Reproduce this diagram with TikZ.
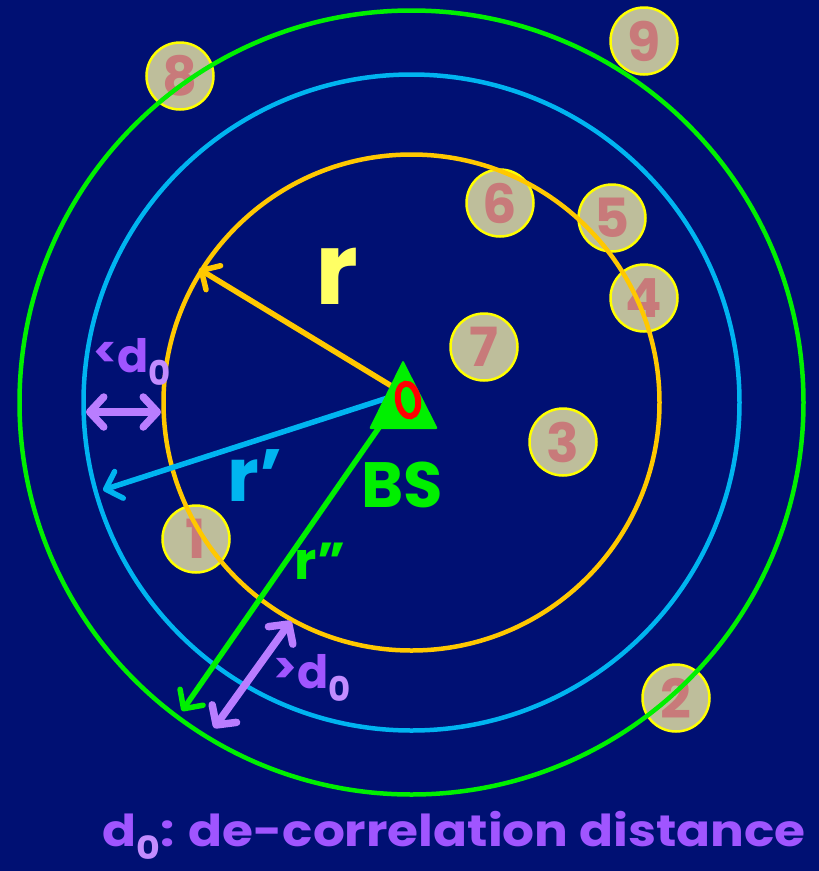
\documentclass[tikz,border=0pt]{standalone}
\usepackage{fontspec}
\setmainfont{Poppins}
\usetikzlibrary{arrows.meta}
\definecolor{bg}{RGB}{0,16,115}
\definecolor{ringorange}{RGB}{255,200,0}
\definecolor{ringblue}{RGB}{0,180,240}
\definecolor{ringgreen}{RGB}{0,240,0}
\definecolor{rlabel}{RGB}{255,255,100}
\definecolor{purparrow}{RGB}{185,125,255}
\definecolor{purptext}{RGB}{160,85,255}
\definecolor{purpsub}{RGB}{195,140,255}
\definecolor{uefill}{RGB}{190,190,155}
\definecolor{uenum}{RGB}{200,122,122}
\definecolor{uerim}{RGB}{255,255,0}
\tikzset{
  ue/.style={circle, minimum size=67pt, inner sep=0pt, fill=uefill, draw=uerim, line width=2.5pt,
    text=uenum, font=\fontsize{54}{54}\selectfont\bfseries},
  ring/.style={line width=4.5pt},
  radarrow/.style={line width=5.5pt, line cap=round, -{Straight Barb[length=14pt,width=28pt,line width=5.5pt,round]}},
  darrow/.style={line width=7.5pt, color=purparrow, line cap=round,
    {Straight Barb[length=14pt,width=30pt,line width=7.5pt,round]}-{Straight Barb[length=14pt,width=30pt,line width=7.5pt,round]}},
  lbl/.style={inner sep=0pt, anchor=center}
}
\newcommand{\subz}[1]{\raisebox{-0.3em}{\color{purpsub}\fontsize{#1}{#1}\selectfont 0}}
\begin{document}
\begin{tikzpicture}[x=1pt,y=-1pt]
\fill[bg] (0,0) rectangle (819,871);
\useasboundingbox (0,0) rectangle (819,871);
% users
\node[ue] (u1) at (196,539) {1};
\node[ue] (u2) at (676,698) {2};
\node[ue] (u3) at (563,442) {3};
\node[ue] (u4) at (644,298) {4};
\node[ue] (u5) at (612,218) {5};
\node[ue] (u6) at (500,203) {6};
\node[ue] (u7) at (484,347) {7};
\node[ue] (u8) at (180,76) {8};
\node[ue] (u9) at (644,41) {9};
% rings
\coordinate (c) at (411.5,402.5);
\draw[ring, ringorange] (c) circle[radius=248];
\draw[ring, ringblue] (c) circle[radius=328];
\draw[ring, ringgreen] (c) circle[radius=392];
% radius arrows
\coordinate (bs) at (403,393);
\coordinate (ro) at (199,269);
\coordinate (rb) at (103,490);
\coordinate (rg) at (182,711);
\draw[radarrow, ringgreen] (bs) -- (rg);
\draw[radarrow, ringorange] (bs) -- (ro);
\draw[radarrow, ringblue] (bs) -- (rb);
% d0 arrows
\coordinate (da1) at (86,412);
\coordinate (da2) at (161,412);
\coordinate (db1) at (291,621);
\coordinate (db2) at (214,728);
\draw[darrow] (da1) -- (da2);
\draw[darrow] (db1) -- (db2);
% BS
\fill[ringgreen, rounded corners=2pt] (403,360) -- (438,429) -- (369,429) -- cycle;
\draw[red, line width=6pt, rotate around={10:(408,400)}] (408,400) ellipse[x radius=10, y radius=16.5];
% labels
\node[lbl, text=rlabel, font=\fontsize{100}{100}\selectfont\bfseries] (lr) at (337,276) {r};
\node[lbl, text=ringblue, font=\fontsize{74}{74}\selectfont\bfseries] (lr1) at (255,476) {r'};
\node[lbl, text=ringgreen, font=\fontsize{52}{52}\selectfont\bfseries] (lr2) at (320,561) {r''};
\node[lbl, text=ringgreen, font=\fontsize{64}{64}\selectfont\bfseries] (lbs) at (402,485) {BS};
\node[lbl, text=purptext, font=\fontsize{46}{46}\selectfont\bfseries] (ld1) at (132,362) {\raisebox{0.1em}{\fontsize{44}{44}\selectfont<}d\subz{34}};
\node[lbl, text=purptext, font=\fontsize{46}{46}\selectfont\bfseries] (ld2) at (312,678) {\raisebox{0.1em}{\fontsize{44}{44}\selectfont>}d\subz{34}};
\node[lbl, text=purptext, font=\fontsize{44}{44}\selectfont\bfseries, anchor=base, xscale=1.14] (cap) at (454,846) {d\subz{32}: de-correlation distance};
\end{tikzpicture}
\end{document}
